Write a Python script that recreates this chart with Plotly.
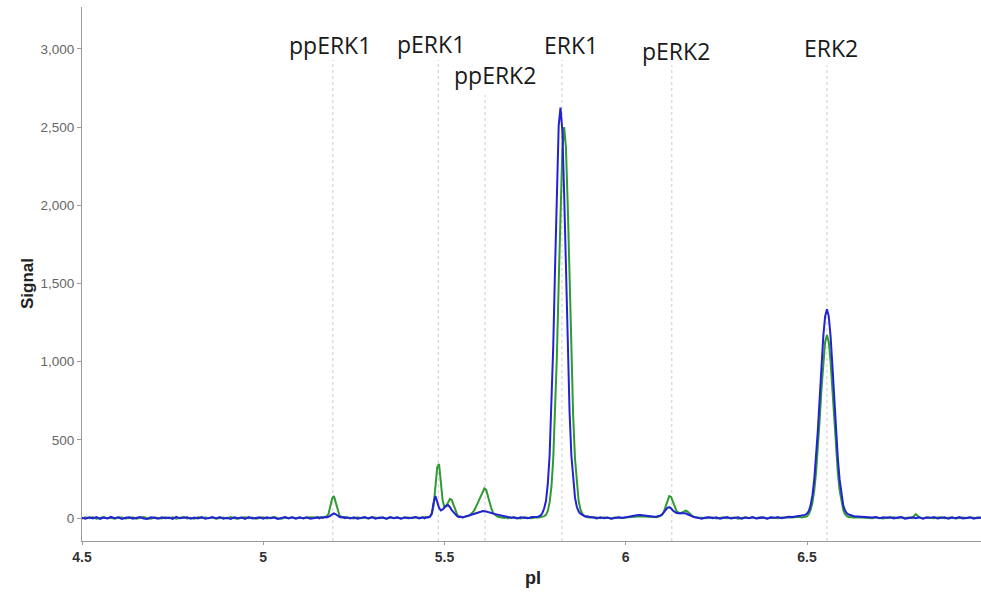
import plotly.graph_objects as go

# ---------------- data ----------------
pI = [
    # 4.50 - 5.15
    4.50, 4.51, 4.52, 4.53, 4.54, 4.55, 4.56, 4.57, 4.58, 4.59,
    4.60, 4.61, 4.62, 4.63, 4.64, 4.65, 4.66, 4.67, 4.68, 4.69,
    4.70, 4.71, 4.72, 4.73, 4.74, 4.75, 4.76, 4.77, 4.78, 4.79,
    4.80, 4.81, 4.82, 4.83, 4.84, 4.85, 4.86, 4.87, 4.88, 4.89,
    4.90, 4.91, 4.92, 4.93, 4.94, 4.95, 4.96, 4.97, 4.98, 4.99,
    5.00, 5.01, 5.02, 5.03, 5.04, 5.05, 5.06, 5.07, 5.08, 5.09,
    5.10, 5.11, 5.12, 5.13, 5.14, 5.15,
    # 5.155 - 5.23
    5.155, 5.160, 5.165, 5.170, 5.175, 5.180, 5.185, 5.190, 5.195, 5.200,
    5.205, 5.210, 5.215, 5.220, 5.225, 5.230,
    # 5.24 - 5.44
    5.24, 5.25, 5.26, 5.27, 5.28, 5.29, 5.30, 5.31, 5.32, 5.33,
    5.34, 5.35, 5.36, 5.37, 5.38, 5.39, 5.40, 5.41, 5.42, 5.43, 5.44,
    # 5.445 - 5.69
    5.445, 5.450, 5.455, 5.460, 5.465, 5.470, 5.475, 5.480, 5.485, 5.490,
    5.495, 5.500, 5.505, 5.510, 5.515, 5.520, 5.525, 5.530, 5.535, 5.540,
    5.545, 5.550, 5.555, 5.560, 5.565, 5.570, 5.575, 5.580, 5.585, 5.590,
    5.595, 5.600, 5.605, 5.610, 5.615, 5.620, 5.625, 5.630, 5.635, 5.640,
    5.645, 5.650, 5.655, 5.660, 5.665, 5.670, 5.675, 5.680, 5.685, 5.690,
    # 5.70 - 5.75
    5.70, 5.71, 5.72, 5.73, 5.74, 5.75,
    # 5.755 - 5.90
    5.755, 5.760, 5.765, 5.770, 5.775, 5.780, 5.785, 5.790, 5.795, 5.800,
    5.805, 5.810, 5.815, 5.820, 5.825, 5.830, 5.835, 5.840, 5.845, 5.850,
    5.855, 5.860, 5.865, 5.870, 5.875, 5.880, 5.885, 5.890, 5.895, 5.900,
    # 5.91 - 6.08
    5.91, 5.92, 5.93, 5.94, 5.95, 5.96, 5.97, 5.98, 5.99, 6.00,
    6.01, 6.02, 6.03, 6.04, 6.05, 6.06, 6.07, 6.08,
    # 6.085 - 6.20
    6.085, 6.090, 6.095, 6.100, 6.105, 6.110, 6.115, 6.120, 6.125, 6.130,
    6.135, 6.140, 6.145, 6.150, 6.155, 6.160, 6.165, 6.170, 6.175, 6.180,
    6.185, 6.190, 6.195, 6.200,
    # 6.21 - 6.48
    6.21, 6.22, 6.23, 6.24, 6.25, 6.26, 6.27, 6.28, 6.29, 6.30,
    6.31, 6.32, 6.33, 6.34, 6.35, 6.36, 6.37, 6.38, 6.39, 6.40,
    6.41, 6.42, 6.43, 6.44, 6.45, 6.46, 6.47, 6.48,
    # 6.485 - 6.63
    6.485, 6.490, 6.495, 6.500, 6.505, 6.510, 6.515, 6.520, 6.525, 6.530,
    6.535, 6.540, 6.545, 6.550, 6.555, 6.560, 6.565, 6.570, 6.575, 6.580,
    6.585, 6.590, 6.595, 6.600, 6.605, 6.610, 6.615, 6.620, 6.625, 6.630,
    # 6.64 - 6.98
    6.64, 6.65, 6.66, 6.67, 6.68, 6.69, 6.70, 6.71, 6.72, 6.73,
    6.74, 6.75, 6.76, 6.77, 6.78, 6.79, 6.80, 6.81, 6.82, 6.83,
    6.84, 6.85, 6.86, 6.87, 6.88, 6.89, 6.90, 6.91, 6.92, 6.93,
    6.94, 6.95, 6.96, 6.97, 6.98,
]

signal_green = [
    -3, 4, -1, 5, -4, 2, 6, -2, 1, -5,
    3, 4, -3, 0, 5, -4, 2, 6, -1, -5,
    3, 1, -3, 5, -2, 4, -4, 2, 6, -3,
    1, -5, 4, 0, 3, -2, 5, -4, 1, 3,
    -3, 6, -1, -4, 2, 5, -2, 3, -5, 1,
    4, -3, 2, 6, -1, -4, 3, 0, 5, -2,
    4, -3, 1, 5, 3, 6,
    5, 3, 7, 6, 10, 25, 70, 125, 140, 100,
    50, 18, 8, 3, 6, 2,
    2, -3, 5, -1, 3, -4, 6, 1, -2, 4,
    -5, 3, 0, 5, -3, 2, 4, -2, 5, 1, 3,
    4, 3, 6, 10, 25, 80, 200, 325, 345, 230,
    110, 68, 75, 100, 122, 115, 80, 45, 22, 10,
    6, 3, 7, 8, 12, 18, 28, 42, 62, 88,
    115, 135, 165, 190, 180, 140, 90, 55, 30, 18,
    10, 6, 3, 5, 1, 4, -2, 3, 0, 4,
    2, -3, 4, 1, -1, 3,
    2, 4, 6, 8, 12, 20, 45, 100, 200, 380,
    650, 1030, 1500, 1980, 2350, 2500, 2370, 2000, 1520, 1040,
    650, 380, 210, 110, 55, 28, 15, 8, 5, 3,
    2, 4, -2, 3, 1, -3, 4, 2, 0, 3,
    5, 8, 10, 12, 9, 7, 5, 4,
    5, 8, 12, 20, 40, 75, 115, 140, 135, 100,
    65, 45, 35, 30, 35, 42, 47, 42, 30, 18,
    10, 6, 3, 2,
    2, -1, 3, 4, -3, 2, 5, -2, 1, 3,
    -4, 2, 5, 0, 3, -2, 4, 1, -3, 5,
    2, -1, 4, 3, 5, 4, 7, 8,
    3, 5, 6, 10, 25, 51, 99, 177, 292, 446,
    631, 827, 1003, 1126, 1170, 1126, 1003, 827, 631, 446,
    292, 177, 99, 51, 25, 11, 6, 4, 2, 3,
    5, 4, 2, 3, -1, 4, 2, -3, 3, 1,
    5, -2, 4, 0, 3, -1, 25, 3, -2, 4,
    2, -1, 3, 5, -2, 1, 4, -3, 2, 3,
    -1, 4, 2, -2, 3,
]

signal_blue = [
    2, -4, 5, -2, 6, -5, 3, -3, 7, -1,
    4, -6, 2, 5, -4, 1, 6, -3, -6, 4,
    2, -5, 5, -1, 3, -6, 7, -2, 0, 5,
    -4, 3, -3, 6, -5, 1, 4, -2, 6, -4,
    2, -6, 5, -1, 3, -5, 6, -3, 1, 4,
    -4, 5, -2, 3, -6, 2, 6, -3, 4, -5,
    3, -2, 5, -4, 2, 4,
    -2, 5, 1, 6, 4, 8, 14, 24, 30, 24,
    15, 8, 3, 6, -1, 4,
    -3, 5, -4, 2, 6, -2, 4, -5, 3, 1,
    -4, 6, -1, 3, -5, 5, -2, 2, 6, -3, 4,
    -2, 4, 3, 8, 30, 100, 140, 105, 65, 48,
    55, 68, 80, 82, 70, 50, 35, 22, 12, 6,
    9, 4, 10, 12, 15, 18, 22, 25, 28, 32,
    35, 40, 44, 45, 42, 38, 36, 33, 28, 25,
    22, 18, 15, 12, 10, 8, 6, 5, 2, 4,
    -3, 5, 2, -2, 6, 4,
    6, 10, 16, 32, 62, 110, 220, 400, 700, 1100,
    1600, 2100, 2510, 2625, 2480, 2080, 1580, 1080, 680, 400,
    230, 130, 72, 42, 28, 18, 14, 9, 11, 6,
    5, -3, 4, -1, 3, -4, 2, 5, 1, 6,
    9, 13, 18, 20, 17, 13, 9, 8,
    10, 12, 15, 22, 35, 50, 65, 70, 62, 48,
    38, 32, 30, 30, 32, 33, 30, 24, 18, 12,
    8, 5, 3, 2,
    -4, 3, 5, -2, 4, -5, 2, 6, -3, 1,
    5, -4, 3, -1, 6, -3, 2, 4, -5, 3,
    1, 6, -2, 4, 8, 6, 10, 12,
    14, 16, 20, 28, 45, 81, 146, 245, 384, 562,
    767, 977, 1163, 1290, 1335, 1290, 1163, 977, 767, 562,
    384, 245, 146, 81, 48, 30, 22, 18, 15, 12,
    10, 8, 5, 7, 3, 6, -2, 4, 1, 5,
    -3, 3, 6, -4, 2, 4, -2, 5, -5, 3,
    1, 6, -3, 2, 5, -4, 3, -1, 6, -3,
    2, 4, -5, 3, 1,
]

peak_names = ["ppERK1", "pERK1", "ppERK2", "ERK1", "pERK2", "ERK2"]
peak_pI = [5.192, 5.483, 5.612, 5.824, 6.127, 6.555]
label_pI = [5.185, 5.463, 5.640, 5.849, 6.138, 6.566]
label_y = [0.928, 0.931, 0.872, 0.928, 0.917, 0.923]
line_top = [0.901, 0.901, 0.835, 0.901, 0.891, 0.891]

x_ticks = [4.5, 5, 5.5, 6, 6.5]
x_ticklabels = ["4.5", "5", "5.5", "6", "6.5"]
y_ticks = [0, 500, 1000, 1500, 2000, 2500, 3000]

# ---------------- figure ----------------
fig = go.Figure()
fig.add_trace(go.Scatter(x=pI, y=signal_green, mode="lines",
                         line=dict(color="#2f9a32", width=2), showlegend=False))
fig.add_trace(go.Scatter(x=pI, y=signal_blue, mode="lines",
                         line=dict(color="#2222d4", width=2), showlegend=False))

for xv, top in zip(peak_pI, line_top):
    fig.add_shape(type="line", xref="x", yref="paper", x0=xv, x1=xv, y0=0, y1=top,
                  line=dict(color="#cccccc", width=1, dash="dot"), layer="below")

for name, xv, yv in zip(peak_names, label_pI, label_y):
    fig.add_annotation(x=xv, y=yv, xref="x", yref="paper", text=name, showarrow=False,
                       xanchor="center", yanchor="middle",
                       font=dict(family="Open Sans", size=23, color="#1a1a1a"))

fig.add_annotation(x=-0.0612, y=0.483, xref="paper", yref="paper", text="Signal",
                   textangle=-90, showarrow=False, xanchor="center", yanchor="middle",
                   font=dict(family="Liberation Sans, Arial", size=17, color="#222222", weight="bold"))
fig.add_annotation(x=0.5017, y=-0.0693, xref="paper", yref="paper", text="pI",
                   showarrow=False, xanchor="center", yanchor="middle",
                   font=dict(family="Liberation Sans, Arial", size=18, color="#222222", weight="bold"))

fig.update_layout(
    width=981, height=598,
    margin=dict(l=82, r=0, t=7, b=57),
    paper_bgcolor="white", plot_bgcolor="white",
    xaxis=dict(range=[4.5, 6.98], tickvals=x_ticks, ticktext=x_ticklabels,
               showline=True, linecolor="#9a9a9a", linewidth=1,
               ticks="outside", ticklen=3, tickcolor="#9a9a9a",
               showgrid=False, zeroline=False,
               tickfont=dict(family="Liberation Sans, Arial", size=14, color="#333333", weight="bold")),
    yaxis=dict(range=[-147, 3268], tickvals=y_ticks, tickformat=",",
               showline=True, linecolor="#9a9a9a", linewidth=1,
               ticks="outside", ticklen=4, tickcolor="#9a9a9a",
               showgrid=False, zeroline=False,
               tickfont=dict(family="Liberation Sans, Arial", size=13.5, color="#666666")),
)

fig.write_html("out.html")
